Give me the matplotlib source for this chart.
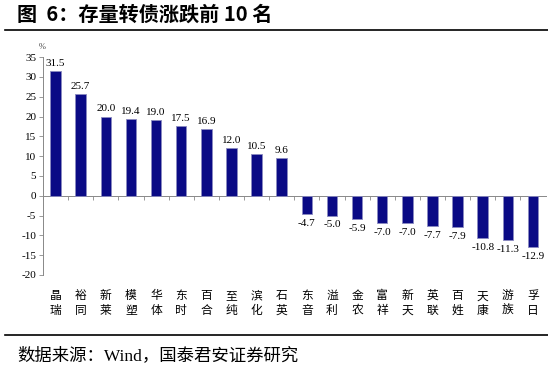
import matplotlib
matplotlib.use("Agg")
import matplotlib.pyplot as plt
import matplotlib.transforms as mtransforms
from matplotlib.lines import Line2D

plt.rcParams['font.family'] = ['Liberation Serif', 'Noto Sans CJK SC', 'DejaVu Sans']

categories = ["晶瑞", "裕同", "新莱", "模塑", "华体", "东时", "百合", "至纯", "滨化", "石英",
              "东音", "溢利", "金农", "富祥", "新天", "英联", "百姓", "天康", "游族", "孚日"]
values = [31.5, 25.7, 20.0, 19.4, 19.0, 17.5, 16.9, 12.0, 10.5, 9.6,
          -4.7, -5.0, -5.9, -7.0, -7.0, -7.7, -7.9, -10.8, -11.3, -12.9]
yticks = [-20, -15, -10, -5, 0, 5, 10, 15, 20, 25, 30, 35]

title = "图  6：存量转债涨跌前 10 名"
source = "数据来源：Wind，国泰君安证券研究"

fig = plt.figure(figsize=(5.48, 3.71), dpi=100)
ax = fig.add_axes([0.0785, 0.259, 0.917, 0.587])

x = list(range(len(categories)))
ax.bar(x, values, width=0.42, color='#0A0A85', edgecolor='#8A8AC0', linewidth=0.6, zorder=3)

ax.set_xlim(-0.5, len(categories) - 0.5)
ax.set_ylim(-20, 35)
ax.set_yticks(yticks)
ax.set_yticklabels([str(t) for t in yticks], fontsize=8, family='Liberation Serif')
ax.tick_params(axis='y', direction='out', length=3, width=0.6, color='#888888', pad=2)

for s in ['top', 'right']:
    ax.spines[s].set_visible(False)
ax.spines['left'].set_color('#888888')
ax.spines['left'].set_linewidth(0.7)
ax.spines['bottom'].set_position(('data', 0))
ax.spines['bottom'].set_color('#888888')
ax.spines['bottom'].set_linewidth(0.7)

ax.set_xticks([i + 0.5 for i in range(len(categories) - 1)] + [-0.5])
ax.set_xticklabels([])
ax.tick_params(axis='x', direction='out', length=3, width=0.6, color='#888888')

for xi, v in zip(x, values):
    if v >= 0:
        ax.text(xi, v + 0.8, f"{v:.1f}", ha='center', va='bottom', fontsize=8,
                family='Liberation Serif')
    else:
        ax.text(xi, v - 1.2, f"{v:.1f}", ha='center', va='top', fontsize=8,
                family='Liberation Serif')

trans = mtransforms.blended_transform_factory(ax.transData, fig.transFigure)
for xi, c in zip(x, categories):
    ax.text(xi, 1 - 303 / 371, "\n".join(c), transform=trans, ha='center', va='center',
            fontsize=8.5, family=['Noto Sans CJK SC'], linespacing=1.15)

fig.text(42 / 548, 1 - 47 / 371, "%", fontsize=6, ha='center', va='center',
         family='Liberation Serif', color='#444444')

fig.text(17 / 548, 1 - 14 / 371, title, fontsize=14.5, fontweight='bold', ha='left', va='center',
         family=['Noto Sans CJK SC'])
fig.add_artist(Line2D([5 / 548, 1.0], [1 - 30 / 371, 1 - 30 / 371], transform=fig.transFigure,
                      color='black', linewidth=1.2))
fig.add_artist(Line2D([5 / 548, 1.0], [1 - 335 / 371, 1 - 335 / 371], transform=fig.transFigure,
                      color='black', linewidth=1.2))
fig.text(17 / 548, 1 - 356 / 371, source, fontsize=12.5, ha='left', va='center',
         family=['Liberation Serif', 'Noto Sans CJK SC'])

fig.savefig("out.png", dpi=100)
